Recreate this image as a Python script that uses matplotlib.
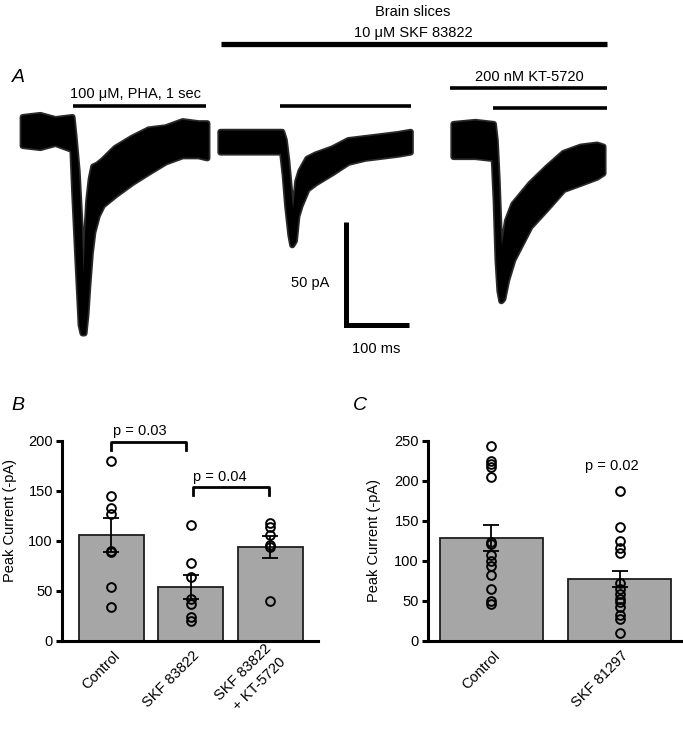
import matplotlib
matplotlib.use('Agg')
import matplotlib.pyplot as plt
import matplotlib.transforms as mtransforms
import numpy as np

plt.rcParams['font.family'] = ['Liberation Sans', 'DejaVu Sans']

# ---- panel A: whole-cell currents, band edges
# time in ms from agonist onset, current in pA from baseline
t_ctrl = [-79, -51, -27, 0, 3, 8, 13, 16, 19, 22, 25, 29, 33, 40, 48, 68, 95, 121, 148, 175, 200, 214]
top_ctrl = [7, 8, 6, 7, -2, -19, -48, -75, -75, -50, -34, -23, -17, -16, -14, -8, -3, 1, 2, 5, 4, 4]
bot_ctrl = [-7, -8, -6, -9, -31, -63, -94, -98, -98, -89, -75, -59, -49, -41, -36, -31, -25, -20, -15, -12, -12, -13]

t_skf = [-98, -50, 0, 4, 8, 13, 16, 20, 24, 29, 40, 53, 80, 105, 132, 159, 185, 204]
top_skf = [5, 5, 5, 1, -9, -26, -36, -31, -19, -14, -8, -6, -3, 1, 2, 3, 4, 5]
bot_skf = [-5, -5, -5, -16, -31, -45, -50, -48, -36, -31, -23, -20, -15, -10, -8, -7, -6, -5]

t_kt = [-64, -29, 0, 3, 6, 9, 12, 15, 21, 31, 58, 85, 111, 138, 164, 174]
top_kt = [8, 9, 8, 0, -19, -44, -56, -51, -39, -31, -21, -13, -6, -3, -2, -3]
bot_kt = [-8, -8, -9, -29, -58, -73, -78, -77, -68, -58, -42, -33, -24, -21, -18, -16]

# ---- panel B
b_groups = ['Control', 'SKF 83822', 'SKF 83822\n+ KT-5720']
b_means = [106, 54, 94]
b_sem = [17, 12, 11]
b_points = [[180, 145, 133, 127, 90, 89, 54, 34],
            [116, 78, 64, 42, 37, 24, 20],
            [118, 114, 106, 96, 94, 40]]

# ---- panel C
c_groups = ['Control', 'SKF 81297']
c_means = [129, 78]
c_sem = [16, 10]
c_points = [[244, 225, 221, 217, 205, 124, 121, 107, 100, 94, 82, 65, 50, 46],
            [187, 143, 125, 116, 110, 73, 65, 59, 53, 49, 43, 33, 28, 10]]

W, H = 683, 729
fig = plt.figure(figsize=(W / 100, H / 100), dpi=100)

MS_PX = 100 / 63.0   # ms per pixel
PA_PX = 50 / 103.0   # pA per pixel
FS = 10.5

axA = fig.add_axes([0, 1 - 360 / H, 1, 360 / H])
axA.set_xlim(0, W * MS_PX)
axA.set_ylim(-360 * PA_PX, 0)
axA.axis('off')


def at(x, y):
    # figure pixel -> panel A data coords
    return x * MS_PX, -y * PA_PX


traces = [(t_ctrl, top_ctrl, bot_ctrl, at(72, 131)),
          (t_skf, top_skf, bot_skf, at(281.7, 141.7)),
          (t_kt, top_kt, bot_kt, at(493.3, 140))]
for t, top, bot, (ox, oy) in traces:
    tt = ox + np.array(t)
    # noisy fringe, then the dense core
    axA.fill_between(tt, oy + np.array(top), oy + np.array(bot), facecolor='#222222',
                     edgecolor='#2a2a2a', lw=4.5, joinstyle='round')
    axA.fill_between(tt, oy + np.array(top), oy + np.array(bot), facecolor='k',
                     edgecolor='k', lw=2.0, joinstyle='round')

# drug application bars
def hbar(x1, x2, y, lw):
    a = at(x1, y)
    b = at(x2, y)
    axA.plot([a[0], b[0]], [a[1], b[1]], color='k', lw=lw, solid_capstyle='butt')

hbar(221, 607, 44, 3.8)
hbar(73, 206, 106, 2.6)
hbar(280, 411, 106, 2.6)
hbar(450, 607, 88, 2.6)
hbar(493, 607, 108, 2.6)

axA.text(*at(413, 12), 'Brain slices', ha='center', va='center', fontsize=FS)
axA.text(*at(413, 33), '10 \u03bcM SKF 83822', ha='center', va='center', fontsize=FS)
axA.text(*at(135, 94), '100 \u03bcM, PHA, 1 sec', ha='center', va='center', fontsize=FS)
axA.text(*at(529, 77), '200 nM KT-5720', ha='center', va='center', fontsize=FS)

# scale bar 100 ms x 50 pA
sx, sy = at(346, 325)
axA.plot([sx, sx, sx + 100], [sy + 50, sy, sy], color='k', lw=3.6,
         solid_joinstyle='miter', solid_capstyle='butt')
axA.text(*at(310, 283), '50 pA', ha='center', va='center', fontsize=FS)
axA.text(*at(376, 349), '100 ms', ha='center', va='center', fontsize=FS)

fig.text(18 / W, 1 - 78 / H, 'A', fontsize=14, style='italic', ha='center', va='center')
fig.text(18 / W, 1 - 406 / H, 'B', fontsize=14, style='italic', ha='center', va='center')
fig.text(360 / W, 1 - 406 / H, 'C', fontsize=14, style='italic', ha='center', va='center')


def bar_panel(ax, groups, means, sem, points, width):
    x = np.arange(len(groups))
    ax.bar(x, means, width=width, color='#a6a6a6', edgecolor='#1e1e1e', lw=1.3, zorder=1)
    ax.errorbar(x, means, yerr=sem, fmt='none', ecolor='k', elinewidth=1.3,
                capsize=6, capthick=1.3, zorder=2)
    for i, pts in enumerate(points):
        ax.plot([i] * len(pts), pts, 'o', mfc='none', mec='k', ms=6.3, mew=1.4,
                zorder=3, clip_on=False)
    for s in ['top', 'right']:
        ax.spines[s].set_visible(False)
    for s in ['left', 'bottom']:
        ax.spines[s].set_linewidth(2.2)
    ax.tick_params(axis='y', direction='out', length=4.5, width=2.2, labelsize=FS, pad=2)
    ax.tick_params(axis='x', length=0, labelsize=FS, pad=9)
    ax.set_xticks(x)
    ax.set_xticklabels(groups, rotation=45, ha='right', va='center',
                       rotation_mode='anchor', linespacing=1.5)
    shift = mtransforms.ScaledTranslation(6 / 100, 0, fig.dpi_scale_trans)
    for lbl in ax.get_xticklabels():
        lbl.set_transform(lbl.get_transform() + shift)
    ax.set_ylabel('Peak Current (-pA)', fontsize=FS)
    return x


axB = fig.add_axes([62 / W, (H - 641) / H, 256 / W, 200 / H])
bar_panel(axB, b_groups, b_means, b_sem, b_points, 0.82)
axB.set_xlim(-0.623, 2.6)
axB.set_ylim(0, 200)
axB.set_yticks([0, 50, 100, 150, 200])
axB.yaxis.set_label_coords(-0.175, 0.6)
axB.plot([0, 0, 0.94, 0.94], [191, 199, 199, 191], color='k', lw=2.0, clip_on=False)
axB.plot([1.03, 1.03, 1.98, 1.98], [146, 154, 154, 146], color='k', lw=2.0, clip_on=False)
axB.text(0.36, 210, 'p = 0.03', ha='center', va='center', fontsize=FS)
axB.text(1.365, 164, 'p = 0.04', ha='center', va='center', fontsize=FS)

axC = fig.add_axes([428 / W, (H - 641) / H, 255 / W, 200 / H])
bar_panel(axC, c_groups, c_means, c_sem, c_points, 0.805)
axC.set_xlim(-0.496, 1.496)
axC.set_ylim(0, 250)
axC.set_yticks([0, 50, 100, 150, 200, 250])
axC.yaxis.set_label_coords(-0.185, 0.5)
axC.text(0.94, 219, 'p = 0.02', ha='center', va='center', fontsize=FS)

fig.savefig('out.png', dpi=100)
